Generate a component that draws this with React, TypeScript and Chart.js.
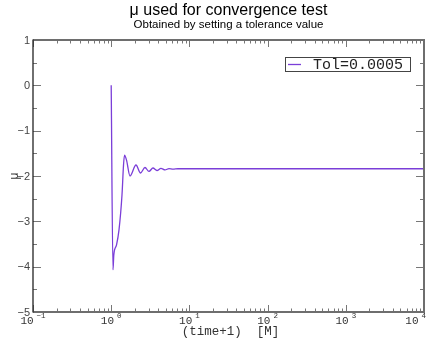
import { useEffect, useRef } from 'react';
import { Chart, registerables } from 'chart.js';

Chart.register(...registerables);

const titleText = 'μ used for convergence test';
const subtitleText = 'Obtained by setting a tolerance value';
const seriesLabel = 'Tol=0.0005';
const xAxisTitle = '(time+1)  [M]';
const yAxisTitle = 'μ';

// (time+1) [M]
const timePlusOne = [
  1.0, 1.054, 1.08, 1.17, 1.258, 1.374, 1.437, 1.48, 1.57, 1.74, 2.075, 2.37,
  2.705, 3.04, 3.42, 3.85, 4.33, 4.88, 5.48, 6.17, 7.15, 10000,
];
// μ
const muValues = [
  0, -4.07, -3.74, -3.52, -3.19, -2.42, -1.76, -1.54, -1.65, -2.0, -1.757,
  -1.934, -1.813, -1.9, -1.824, -1.879, -1.83, -1.864, -1.837, -1.85, -1.84,
  -1.84,
];

const xDecadeExponents = [-1, 0, 1, 2, 3, 4];
const yTickValues = [1, 0, -1, -2, -3, -4, -5];

const LINE_COLOR = '#7b3ed8';
const MONO = '"Liberation Mono", "DejaVu Sans Mono", monospace';
const SANS = '"Liberation Sans", Arial, sans-serif';

const fmtMinus = (v: number) => (v < 0 ? '\u2212' + Math.abs(v) : String(v));

const axesPlugin = {
  id: 'customAxes',
  afterDraw(chart: any) {
    const ctx = chart.ctx as CanvasRenderingContext2D;
    const { left, right, top, bottom } = chart.chartArea;
    const xs = chart.scales.x;
    const ys = chart.scales.y;
    ctx.save();

    // ticks
    ctx.strokeStyle = '#777';
    ctx.lineWidth = 1;
    ctx.beginPath();
    const yMin = Math.min(...yTickValues);
    const yMax = Math.max(...yTickValues);
    for (let v = yMin; v <= yMax + 1e-9; v += 0.5) {
      const py = Math.round(ys.getPixelForValue(v)) + 0.5;
      const major = Math.abs(v - Math.round(v)) < 1e-9;
      const len = major ? 8 : 4;
      ctx.moveTo(left, py);
      ctx.lineTo(left + len, py);
      ctx.moveTo(right, py);
      ctx.lineTo(right - len, py);
    }
    const xMaxExp = Math.max(...xDecadeExponents);
    for (const e of xDecadeExponents) {
      for (let m = 1; m <= 9; m++) {
        if (e === xMaxExp && m > 1) break;
        const v = m * Math.pow(10, e);
        const px = Math.round(xs.getPixelForValue(v)) + 0.5;
        const len = m === 1 ? 7 : 3.5;
        ctx.moveTo(px, bottom);
        ctx.lineTo(px, bottom - len);
        ctx.moveTo(px, top);
        ctx.lineTo(px, top + len);
      }
    }
    ctx.stroke();

    // frame
    ctx.strokeStyle = '#6e6e6e';
    ctx.lineWidth = 2;
    ctx.beginPath();
    ctx.moveTo(left, top);
    ctx.lineTo(right, top);
    ctx.lineTo(right, bottom);
    ctx.lineTo(left, bottom);
    ctx.stroke();
    ctx.strokeStyle = '#222';
    ctx.lineWidth = 1.3;
    ctx.beginPath();
    ctx.moveTo(left, top - 0.5);
    ctx.lineTo(left, bottom + 0.5);
    ctx.stroke();

    // y labels
    ctx.fillStyle = '#444';
    ctx.font = '11px ' + SANS;
    ctx.textAlign = 'right';
    ctx.textBaseline = 'middle';
    for (const v of yTickValues) {
      ctx.fillText(fmtMinus(v), left - 3, ys.getPixelForValue(v) + 0.5);
    }

    // x labels: 10^e
    ctx.textBaseline = 'alphabetic';
    ctx.textAlign = 'left';
    ctx.fillStyle = '#333';
    for (const e of xDecadeExponents) {
      const px = xs.getPixelForValue(Math.pow(10, e));
      ctx.font = '11px ' + MONO;
      const w1 = ctx.measureText('10').width;
      const expText = fmtMinus(e);
      ctx.font = '7.5px ' + MONO;
      const w2 = ctx.measureText(expText).width;
      const total = w1 + 3 + w2;
      let sx = px - total / 2;
      if (sx + total > right + 2) sx = right + 2 - total;
      ctx.font = '11px ' + MONO;
      ctx.fillText('10', sx, bottom + 11.5);
      ctx.font = '7.5px ' + MONO;
      ctx.fillText(expText, sx + w1 + 3, bottom + 5.5);
    }

    // axis titles
    ctx.font = '12.5px ' + MONO;
    ctx.textAlign = 'center';
    ctx.textBaseline = 'middle';
    ctx.fillStyle = '#333';
    ctx.fillText(xAxisTitle, (left + right) / 2 + 2, bottom + 20);

    ctx.save();
    ctx.translate(15, (top + bottom) / 2);
    ctx.rotate(-Math.PI / 2);
    ctx.font = '12px ' + SANS;
    ctx.fillStyle = '#333';
    ctx.fillText(yAxisTitle, 0, 0);
    ctx.restore();

    // legend
    const bx = right - 139;
    const by = top + 17;
    const bw = 125;
    const bh = 14;
    ctx.strokeStyle = '#444';
    ctx.lineWidth = 1;
    ctx.strokeRect(Math.round(bx) + 0.5, Math.round(by) + 0.5, bw, bh);
    ctx.strokeStyle = LINE_COLOR;
    ctx.lineWidth = 1.3;
    ctx.beginPath();
    ctx.moveTo(bx + 3, by + 7.5);
    ctx.lineTo(bx + 16, by + 7.5);
    ctx.stroke();
    ctx.font = '15px ' + MONO;
    ctx.fillStyle = '#222';
    ctx.textAlign = 'left';
    ctx.textBaseline = 'middle';
    ctx.fillText(seriesLabel, bx + 28, by + 8);

    ctx.restore();
  },
};

export default function App() {
  const ref = useRef<HTMLCanvasElement | null>(null);

  useEffect(() => {
    if (!ref.current) return;
    const data = timePlusOne.map((t, i) => ({ x: t, y: muValues[i] }));
    const chart = new Chart(ref.current, {
      type: 'line',
      data: {
        datasets: [
          {
            label: seriesLabel,
            data,
            borderColor: LINE_COLOR,
            borderWidth: 1.3,
            pointRadius: 0,
            fill: false,
            cubicInterpolationMode: 'monotone',
          },
        ],
      },
      options: {
        responsive: false,
        animation: false,
        events: [],
        layout: {
          autoPadding: false,
          padding: { left: 33, right: 11, top: 0, bottom: 34 },
        },
        scales: {
          x: {
            type: 'logarithmic',
            min: 0.1,
            max: 10000,
            display: false,
          },
          y: {
            type: 'linear',
            min: -5,
            max: 1,
            display: false,
          },
        },
        plugins: {
          legend: { display: false },
          tooltip: { enabled: false },
          title: {
            display: true,
            text: titleText,
            color: '#000',
            font: { family: SANS, size: 16, weight: 'normal', lineHeight: 1 },
            padding: { top: 3, bottom: 0 },
          },
          subtitle: {
            display: true,
            text: subtitleText,
            color: '#000',
            font: { family: SANS, size: 11.5, weight: 'normal', lineHeight: 1 },
            padding: { top: 0, bottom: 9.5 },
          },
        },
      },
      plugins: [axesPlugin],
    } as any);
    return () => chart.destroy();
  }, []);

  return (
    <div style={{ position: 'fixed', left: 0, top: 0, width: 435, height: 346, background: '#fff' }}>
      <canvas ref={ref} width={435} height={346} style={{ width: 435, height: 346 }} />
    </div>
  );
}
